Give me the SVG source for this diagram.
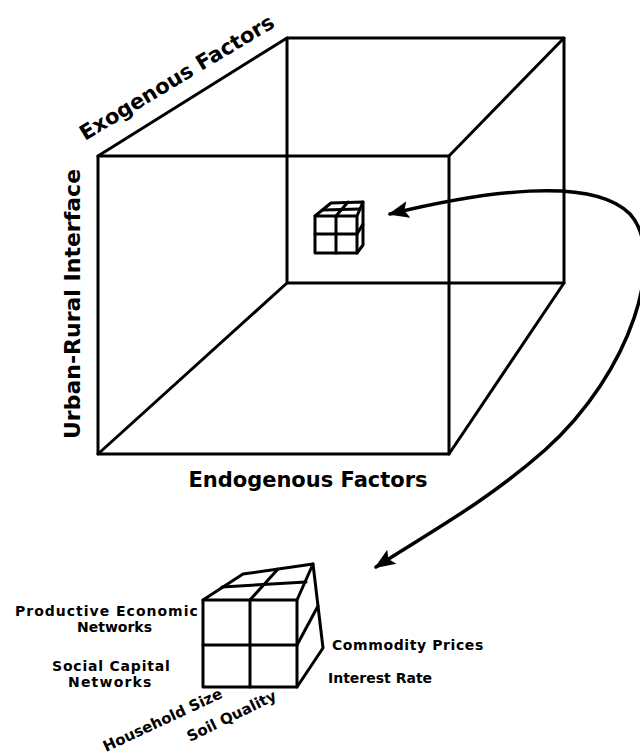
<svg xmlns="http://www.w3.org/2000/svg" width="640" height="756" viewBox="0 0 640 756">
<defs>
<style>
.edge{fill:none;stroke:#000;stroke-width:3;stroke-linejoin:round;stroke-linecap:round}
.thin{fill:none;stroke:#000;stroke-width:3;stroke-linejoin:round;stroke-linecap:round}
.big{font-family:"DejaVu Sans",Verdana,sans-serif;font-weight:bold;font-size:21px;fill:#000}
.small{font-family:"DejaVu Sans",Verdana,sans-serif;font-weight:bold;font-size:14px;fill:#000}
.conn{fill:none;stroke:#000;stroke-width:3.5;stroke-linecap:round}
</style>
<marker id="ah" viewBox="0 0 10 10" refX="9" refY="5" markerWidth="6" markerHeight="6" orient="auto-start-reverse" markerUnits="strokeWidth">
<path d="M0,1 L10,5 L0,9 L2,5 Z" fill="#000"/>
</marker>
</defs>
<rect width="640" height="756" fill="#fff"/>

<g id="big-cube">
<rect class="edge" x="98" y="156" width="351" height="298"/>
<rect class="edge" x="287" y="38" width="277" height="245"/>
<line class="edge" x1="98" y1="156" x2="287" y2="38"/>
<line class="edge" x1="449" y1="156" x2="564" y2="38"/>
<line class="edge" x1="98" y1="454" x2="287" y2="283"/>
<line class="edge" x1="449" y1="454" x2="564" y2="283"/>
<text class="big" transform="translate(85,141) rotate(-31)">Exogenous Factors</text>
<text class="big" style="font-size:22px" transform="translate(80,304) rotate(-90)" text-anchor="middle">Urban-Rural Interface</text>
<text class="big" x="308" y="487" text-anchor="middle">Endogenous Factors</text>
</g>

<g id="small-cube">
<rect class="thin" x="315" y="216" width="42" height="37"/>
<polyline class="thin" points="315,216 331,203 363,202 357,216"/>
<polyline class="thin" points="363,202 363,245 357,253"/>
<line class="thin" x1="336" y1="216" x2="336" y2="253"/>
<line class="thin" x1="315" y1="234" x2="357" y2="234"/>
<line class="thin" x1="336" y1="216" x2="348" y2="202"/>
<line class="thin" x1="323" y1="210" x2="360" y2="209"/>
<line class="thin" x1="357" y1="234" x2="363" y2="224"/>
</g>

<g id="detail-cube">
<rect class="edge" x="203" y="600" width="94" height="87"/>
<polyline class="edge" points="203,600 243,574 313,564 297,600"/>
<polyline class="edge" points="313,564 323,648 297,687"/>
<line class="edge" x1="250" y1="600" x2="250" y2="687"/>
<line class="edge" x1="203" y1="645" x2="297" y2="645"/>
<line class="edge" x1="250" y1="600" x2="278" y2="569"/>
<line class="edge" x1="222" y1="587" x2="306" y2="582"/>
<line class="edge" x1="297" y1="645" x2="318" y2="606"/>
<text class="small" x="15" y="616" letter-spacing="1">Productive Economic</text>
<text class="small" x="77" y="632">Networks</text>
<text class="small" x="52" y="671" letter-spacing="0.8">Social Capital</text>
<text class="small" x="68" y="687" letter-spacing="1.2">Networks</text>
<text class="small" x="332" y="650" letter-spacing="0.6">Commodity Prices</text>
<text class="small" x="328" y="683">Interest Rate</text>
<text class="small" style="font-size:15px" transform="translate(106,752) rotate(-25)">Household Size</text>
<text class="small" style="font-size:15px" transform="translate(190,742) rotate(-26)">Soil Quality</text>
</g>

<g id="connectors">
<path class="conn" marker-start="url(#ah)" marker-end="url(#ah)" d="M390,214 C480,192 592,175 630,214 C667,255 632,372 545,450 C485,503 425,535 376,567"/>
</g>
</svg>
